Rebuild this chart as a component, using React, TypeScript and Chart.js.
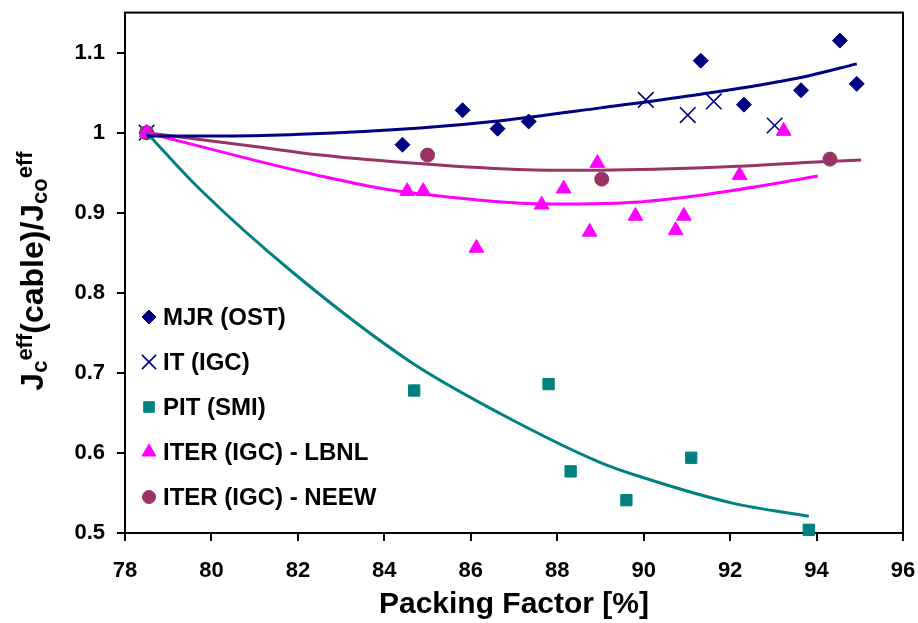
import React, { useEffect, useRef } from 'react';
import { Chart, registerables } from 'chart.js';
import { drawPoint } from 'chart.js/helpers';

Chart.register(...registerables);

const NAVY = '#000080';
const TEAL = '#008080';
const MAGENTA = '#FF00FF';
const PLUM = '#993366';
const FONT = '"Liberation Sans", Arial, Helvetica, sans-serif';

// MJR (OST)
const mjrX = [78.5, 84.42, 85.81, 86.62, 87.34, 91.32, 92.32, 93.64, 94.54, 94.93];
const mjrY = [1.0, 0.985, 1.028, 1.005, 1.014, 1.09, 1.035, 1.053, 1.115, 1.061];
// IT (IGC)
const itX = [78.5, 90.05, 91.02, 91.62, 93.03];
const itY = [1.0, 1.041, 1.022, 1.039, 1.009];
// PIT (SMI)
const pitX = [78.5, 84.69, 87.8, 88.31, 89.6, 91.1, 93.82];
const pitY = [1.0, 0.678, 0.686, 0.577, 0.541, 0.594, 0.504];
// ITER (IGC) - LBNL
const lbnlX = [78.5, 84.53, 84.9, 86.13, 87.64, 88.15, 88.75, 88.93, 89.81, 90.74, 90.93, 92.22, 93.24];
const lbnlY = [1.0, 0.927, 0.927, 0.856, 0.91, 0.93, 0.876, 0.962, 0.896, 0.878, 0.896, 0.947, 1.002];
// ITER (IGC) - NEEW
const neewX = [78.5, 85.0, 89.03, 94.31];
const neewY = [1.0, 0.972, 0.942, 0.967];

// Trend curves
const mjrFitX = [78.5, 80.5, 82.05, 84.83, 86.69, 89.0, 91.32, 93.64, 94.93];
const mjrFitY = [0.996, 0.996, 0.998, 1.006, 1.015, 1.031, 1.048, 1.069, 1.086];
const pitFitX = [78.5, 79.74, 81.87, 84.6, 86.69, 89.0, 90.0, 92.08, 93.82];
const pitFitY = [1.0, 0.929, 0.826, 0.714, 0.649, 0.588, 0.569, 0.537, 0.521];
const lbnlFitX = [78.5, 79.44, 80.96, 82.52, 84.07, 85.6, 87.15, 88.5, 89.77, 91.32, 92.87, 94.03];
const lbnlFitY = [1.0, 0.987, 0.966, 0.946, 0.929, 0.919, 0.912, 0.911, 0.913, 0.922, 0.935, 0.946];
const neewFitX = [78.5, 80.96, 82.52, 84.37, 86.69, 88.15, 90.62, 92.18, 93.87, 95.03];
const neewFitY = [1.0, 0.983, 0.972, 0.963, 0.955, 0.953, 0.955, 0.958, 0.963, 0.966];

const xTicks = [78, 80, 82, 84, 86, 88, 90, 92, 94, 96];
const yTicks = [0.5, 0.6, 0.7, 0.8, 0.9, 1, 1.1];

const legendLabels = ['MJR (OST)', 'IT (IGC)', 'PIT (SMI)', 'ITER (IGC) - LBNL', 'ITER (IGC) - NEEW'];

const pts = (xs: number[], ys: number[]) => xs.map((x, i) => ({ x, y: ys[i] }));

type Marker = { style: string; radius: number; color: string; fill: boolean };
const markers: Marker[] = [
  { style: 'rectRot', radius: 7.5, color: NAVY, fill: true },
  { style: 'crossRot', radius: 11, color: NAVY, fill: false },
  { style: 'rect', radius: 8, color: TEAL, fill: true },
  { style: 'triangle', radius: 8.5, color: MAGENTA, fill: true },
  { style: 'circle', radius: 7, color: PLUM, fill: true },
];

const frameAndTitle = {
  id: 'frameAndTitle',
  beforeDatasetsDraw(chart: any) {
    const { ctx, chartArea } = chart;
    ctx.save();
    ctx.strokeStyle = '#000';
    ctx.lineWidth = 2;
    ctx.strokeRect(chartArea.left, chartArea.top, chartArea.right - chartArea.left, chartArea.bottom - chartArea.top);
    ctx.restore();
  },
  afterDraw(chart: any) {
    const { ctx } = chart;
    // legend inside the plot
    const rows = [317, 362, 407, 452, 497];
    ctx.save();
    legendLabels.forEach((label, i) => {
      const m = markers[i];
      ctx.fillStyle = m.color;
      ctx.strokeStyle = m.color;
      ctx.lineWidth = m.fill ? 1 : 1.6;
      const r = m.style === 'crossRot' ? 10 : m.radius - 0.5;
      drawPoint(ctx, { pointStyle: m.style as any, radius: r, rotation: 0, borderWidth: ctx.lineWidth }, 149, rows[i]);
      ctx.fillStyle = '#000';
      ctx.font = `bold 24px ${FONT}`;
      ctx.textBaseline = 'middle';
      ctx.textAlign = 'left';
      ctx.fillText(label, 163, rows[i] + 1);
    });
    ctx.restore();

    // rotated y-axis title with sub- and superscripts
    const parts: { t: string; k: 'main' | 'sub' | 'sup' }[] = [
      { t: 'J', k: 'main' },
      { t: 'c', k: 'sub' },
      { t: 'eff', k: 'sup' },
      { t: '(cable)/J', k: 'main' },
      { t: 'co', k: 'sub' },
      { t: 'eff', k: 'sup' },
    ];
    const fontFor = (k: string) => (k === 'main' ? `bold 32px ${FONT}` : `bold 22px ${FONT}`);
    const offFor = (k: string) => (k === 'sub' ? 4 : k === 'sup' ? -11 : 0);
    ctx.save();
    let total = 0;
    parts.forEach((p) => {
      ctx.font = fontFor(p.k);
      total += ctx.measureText(p.t).width;
    });
    ctx.translate(43, 271);
    ctx.rotate(-Math.PI / 2);
    ctx.fillStyle = '#000';
    ctx.textBaseline = 'alphabetic';
    ctx.textAlign = 'left';
    let x = -total / 2;
    parts.forEach((p) => {
      ctx.font = fontFor(p.k);
      ctx.fillText(p.t, x, offFor(p.k));
      x += ctx.measureText(p.t).width;
    });
    ctx.restore();
  },
};

const fmt = (v: number) => {
  const hit = yTicks.find((t) => Math.abs(t - v) < 1e-6);
  return hit === undefined ? '' : String(hit);
};

export default function App() {
  const ref = useRef<HTMLCanvasElement | null>(null);

  useEffect(() => {
    if (!ref.current) return;
    const scatter = (label: string, data: any[], m: Marker, order: number) => ({
      type: 'scatter' as const,
      label,
      data,
      order,
      showLine: false,
      pointStyle: m.style,
      pointRadius: m.radius,
      pointBackgroundColor: m.color,
      pointBorderColor: m.color,
      pointBorderWidth: m.fill ? 1 : 1.6,
      clip: false,
    });
    const fit = (data: any[], color: string) => ({
      type: 'line' as const,
      data,
      order: 0,
      showLine: true,
      borderColor: color,
      borderWidth: 3,
      pointRadius: 0,
      fill: false,
      cubicInterpolationMode: 'monotone' as const,
      clip: false,
    });

    const chart = new Chart(ref.current, {
      type: 'scatter',
      data: {
        datasets: [
          fit(pts(mjrFitX, mjrFitY), NAVY),
          fit(pts(pitFitX, pitFitY), TEAL),
          fit(pts(lbnlFitX, lbnlFitY), MAGENTA),
          fit(pts(neewFitX, neewFitY), PLUM),
          scatter(legendLabels[0], pts(mjrX, mjrY), markers[0], 5),
          scatter(legendLabels[1], pts(itX, itY), markers[1], 4),
          scatter(legendLabels[2], pts(pitX, pitY), markers[2], 3),
          scatter(legendLabels[3], pts(lbnlX, lbnlY), markers[3], 1),
          scatter(legendLabels[4], pts(neewX, neewY), markers[4], 2),
        ] as any,
      },
      options: {
        responsive: false,
        animation: false,
        events: [],
        layout: { padding: { top: 7, right: 15, left: 0, bottom: 0 } },
        plugins: { legend: { display: false }, tooltip: { enabled: false } },
        scales: {
          x: {
            type: 'linear',
            min: 78,
            max: 96,
            afterFit: (s: any) => {
              s.height = 90;
              s.paddingLeft = 0;
              s.paddingRight = 0;
              s.paddingTop = 0;
              s.paddingBottom = 0;
            },
            afterBuildTicks: (s: any) => {
              s.ticks = xTicks.map((v) => ({ value: v }));
            },
            border: { display: true, color: '#000', width: 2 },
            grid: { drawOnChartArea: false, drawTicks: true, tickLength: 8, color: '#000', lineWidth: 2 },
            ticks: {
              color: '#000',
              font: { family: FONT, size: 22, weight: 'bold' },
              padding: 17,
              maxRotation: 0,
              callback: (v: any) => String(v),
            },
            title: {
              display: true,
              text: 'Packing Factor [%]',
              color: '#000',
              font: { family: FONT, size: 30, weight: 'bold' },
              padding: { top: 0, bottom: 0 },
            },
          },
          y: {
            type: 'linear',
            min: 0.5,
            max: 1.15,
            afterFit: (s: any) => {
              s.width = 125;
              s.paddingLeft = 0;
              s.paddingRight = 0;
              s.paddingTop = 0;
              s.paddingBottom = 0;
            },
            afterBuildTicks: (s: any) => {
              s.ticks = yTicks.map((v) => ({ value: v }));
            },
            border: { display: true, color: '#000', width: 2 },
            grid: { drawOnChartArea: false, drawTicks: true, tickLength: 8, color: '#000', lineWidth: 2 },
            ticks: {
              color: '#000',
              font: { family: FONT, size: 22, weight: 'bold' },
              padding: 12,
              callback: (v: any) => fmt(Number(v)),
            },
          },
        },
      },
      plugins: [frameAndTitle],
    } as any);
    return () => chart.destroy();
  }, []);

  return (
    <div style={{ position: 'absolute', left: 0, top: 0, width: 918, height: 623, background: '#fff' }}>
      <canvas ref={ref} width={918} height={623} style={{ display: 'block' }} />
    </div>
  );
}
